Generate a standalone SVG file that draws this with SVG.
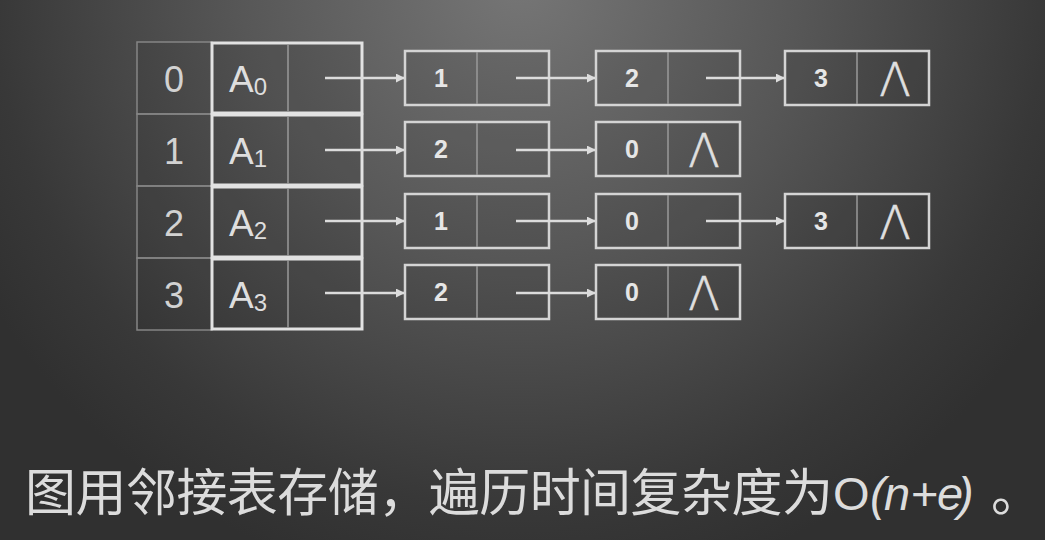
<svg xmlns="http://www.w3.org/2000/svg" width="1045" height="540" viewBox="0 0 1045 540">
<defs>
<radialGradient id="bg" gradientUnits="userSpaceOnUse" cx="520" cy="-20" r="620" fx="520" fy="-20">
<stop offset="0" stop-color="#767676"/>
<stop offset="0.45" stop-color="#575757"/>
<stop offset="0.85" stop-color="#383838"/>
<stop offset="1" stop-color="#303030"/>
</radialGradient>
<marker id="ah" viewBox="0 0 10 10" refX="9" refY="5" markerWidth="9" markerHeight="9" markerUnits="userSpaceOnUse" orient="auto">
<path d="M0,0 L10,5 L0,10 z" fill="#dcdcdc"/>
</marker>
</defs>
<style>
.idx{fill:rgba(0,0,0,0.06);stroke:#858585;stroke-width:1.5}
.row{fill:rgba(0,0,0,0.08);stroke:#e2e2e2;stroke-width:3}
.div{stroke:#9a9a9a;stroke-width:1.5}
.node{fill:rgba(0,0,0,0.07);stroke:#d4d4d4;stroke-width:2.5}
.t{font-family:"Liberation Sans",Arial,sans-serif;fill:#dedede}
.big{font-size:36px;text-anchor:middle;fill:#d2d2d2}
.a{font-size:37px}
.sub{font-size:24px}
.n{font-size:25px;text-anchor:middle;font-weight:bold;fill:#e6e6e6}
.lam{font-family:"DejaVu Sans","Liberation Sans",sans-serif;font-weight:200;font-size:46px;text-anchor:middle;fill:#e0e0e0;stroke:#e0e0e0;stroke-width:0.6}
.arr{stroke:#dcdcdc;stroke-width:2.5;fill:none;marker-end:url(#ah)}
.cap{font-family:"Noto Sans CJK SC","Noto Sans",sans-serif;font-size:51px;fill:#dcdcdc}
.capl{font-family:"Liberation Sans",Arial,sans-serif;font-size:47px;fill:#dcdcdc;font-style:italic}
</style>
<rect x="0" y="0" width="1045" height="540" fill="url(#bg)"/>

<g id="index">
<rect class="idx" x="137" y="42" width="75" height="72"/>
<rect class="idx" x="137" y="114" width="75" height="72"/>
<rect class="idx" x="137" y="186" width="75" height="72"/>
<rect class="idx" x="137" y="258" width="75" height="72"/>
<text class="t big" x="174" y="92">0</text>
<text class="t big" x="174" y="164">1</text>
<text class="t big" x="174" y="236">2</text>
<text class="t big" x="174" y="308">3</text>
</g>

<g id="head0">
<rect class="row" x="212" y="43" width="150" height="70"/>
<line class="div" x1="288" y1="44" x2="288" y2="112"/>
<text class="t a" x="229" y="92">A<tspan class="sub" dy="3">0</tspan></text>
</g>
<g id="head1">
<rect class="row" x="212" y="115" width="150" height="70"/>
<line class="div" x1="288" y1="116" x2="288" y2="184"/>
<text class="t a" x="229" y="164">A<tspan class="sub" dy="3">1</tspan></text>
</g>
<g id="head2">
<rect class="row" x="212" y="187" width="150" height="70"/>
<line class="div" x1="288" y1="188" x2="288" y2="256"/>
<text class="t a" x="229" y="236">A<tspan class="sub" dy="3">2</tspan></text>
</g>
<g id="head3">
<rect class="row" x="212" y="259" width="150" height="70"/>
<line class="div" x1="288" y1="260" x2="288" y2="328"/>
<text class="t a" x="229" y="308">A<tspan class="sub" dy="3">3</tspan></text>
</g>

<g id="n01">
<rect class="node" x="405" y="51" width="144" height="54"/>
<line class="div" x1="477" y1="52" x2="477" y2="104"/>
<text class="t n" x="441" y="87">1</text>
</g>
<g id="n02">
<rect class="node" x="596" y="51" width="144" height="54"/>
<line class="div" x1="668" y1="52" x2="668" y2="104"/>
<text class="t n" x="632" y="87">2</text>
</g>
<g id="n03">
<rect class="node" x="785" y="51" width="144" height="54"/>
<line class="div" x1="857" y1="52" x2="857" y2="104"/>
<text class="t n" x="821" y="87">3</text>
<text class="t lam" x="895" y="96">Λ</text>
</g>

<g id="n11">
<rect class="node" x="405" y="122" width="144" height="54"/>
<line class="div" x1="477" y1="123" x2="477" y2="175"/>
<text class="t n" x="441" y="158">2</text>
</g>
<g id="n12">
<rect class="node" x="596" y="122" width="144" height="54"/>
<line class="div" x1="668" y1="123" x2="668" y2="175"/>
<text class="t n" x="632" y="158">0</text>
<text class="t lam" x="704" y="167">Λ</text>
</g>

<g id="n21">
<rect class="node" x="405" y="194" width="144" height="54"/>
<line class="div" x1="477" y1="195" x2="477" y2="247"/>
<text class="t n" x="441" y="230">1</text>
</g>
<g id="n22">
<rect class="node" x="596" y="194" width="144" height="54"/>
<line class="div" x1="668" y1="195" x2="668" y2="247"/>
<text class="t n" x="632" y="230">0</text>
</g>
<g id="n23">
<rect class="node" x="785" y="194" width="144" height="54"/>
<line class="div" x1="857" y1="195" x2="857" y2="247"/>
<text class="t n" x="821" y="230">3</text>
<text class="t lam" x="895" y="239">Λ</text>
</g>

<g id="n31">
<rect class="node" x="405" y="265" width="144" height="54"/>
<line class="div" x1="477" y1="266" x2="477" y2="318"/>
<text class="t n" x="441" y="301">2</text>
</g>
<g id="n32">
<rect class="node" x="596" y="265" width="144" height="54"/>
<line class="div" x1="668" y1="266" x2="668" y2="318"/>
<text class="t n" x="632" y="301">0</text>
<text class="t lam" x="704" y="310">Λ</text>
</g>

<g id="connectors">
<line class="arr" x1="325" y1="78" x2="404" y2="78"/>
<line class="arr" x1="325" y1="150" x2="404" y2="150"/>
<line class="arr" x1="325" y1="221" x2="404" y2="221"/>
<line class="arr" x1="325" y1="293" x2="404" y2="293"/>
<line class="arr" x1="516" y1="78" x2="595" y2="78"/>
<line class="arr" x1="516" y1="150" x2="595" y2="150"/>
<line class="arr" x1="516" y1="221" x2="595" y2="221"/>
<line class="arr" x1="516" y1="293" x2="595" y2="293"/>
<line class="arr" x1="706" y1="78" x2="784" y2="78"/>
<line class="arr" x1="706" y1="221" x2="784" y2="221"/>
</g>

<g id="caption">
<text class="cap" x="25" y="511" textLength="808" lengthAdjust="spacing">图用邻接表存储，遍历时间复杂度为</text>
<text class="capl" y="510" x="833 870 884 911 937 958"><tspan font-style="normal">O</tspan>(n<tspan font-style="normal">+</tspan>e)</text>
<text class="cap" x="991" y="511">。</text>
</g>
</svg>
